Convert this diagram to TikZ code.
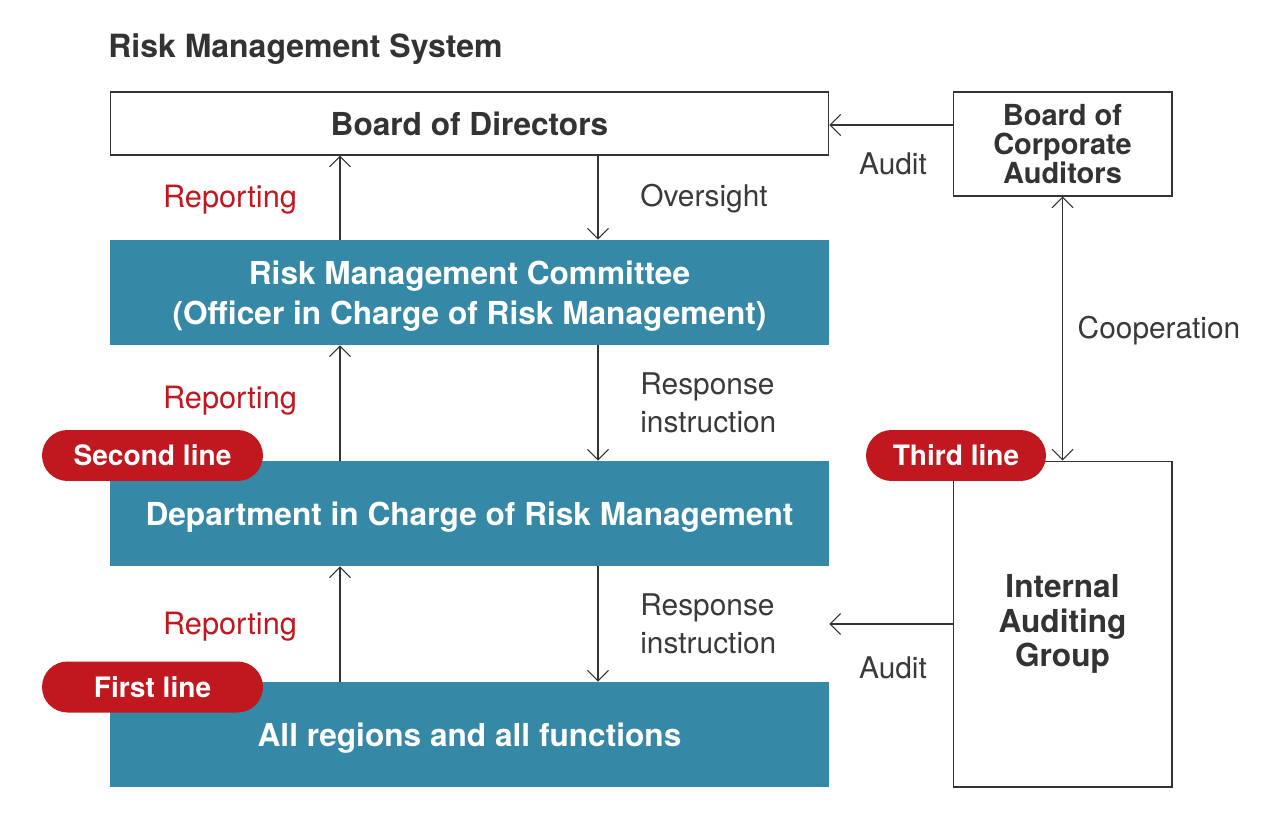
\documentclass[tikz,border=0pt]{standalone}
\usepackage{fontspec}
\setmainfont{TeX Gyre Heros}
\usepackage{tikz}
\usetikzlibrary{arrows.meta}
\definecolor{ink}{HTML}{333333}
\definecolor{soft}{HTML}{3A3A3A}
\definecolor{riskteal}{HTML}{3589A7}
\definecolor{linered}{HTML}{C1171F}
\tikzset{
  box/.style={draw=ink, line width=0.6pt, fill=white, text=ink, align=center, inner sep=0pt, font=\fontsize{18}{22}\selectfont\bfseries},
  band/.style={fill=riskteal, text=white, align=center, inner sep=0pt, text depth=0pt, minimum width=14.38cm, minimum height=2.1cm, font=\fontsize{18}{22.8}\selectfont\bfseries},
  pill/.style={fill=linered, text=white, inner sep=0pt, rounded corners=0.51cm, minimum height=1.02cm, font=\fontsize{16}{19}\selectfont\bfseries},
  arr/.style={draw=ink, line width=0.6pt, -{Straight Barb[length=6pt,width=12pt]}},
  lab/.style={text=soft, inner sep=0pt, align=left, font=\fontsize{17}{22}\selectfont},
  rep/.style={text=linered, inner sep=0pt, font=\fontsize{17.5}{22}\selectfont},
}
\begin{document}
\begin{tikzpicture}[x=0.02cm, y=-0.02cm]
  \useasboundingbox (0,0) rectangle (1280,817);
  \node[text=ink, inner sep=0pt, anchor=base west, font=\fontsize{18.2}{22}\selectfont\bfseries] (ttl) at (108,58) {Risk Management System};
  % boxes
  \node[box, minimum width=14.38cm, minimum height=1.26cm] (bod) at (469.5,123.5) {Board of Directors};
  \node[box, minimum width=4.38cm, minimum height=2.08cm, font=\fontsize{16.5}{16.5}\selectfont\bfseries] (bca) at (1062.5,144) {Board of\\Corporate\\Auditors};
  \node[band] (rmc) at (469.5,292.5) {Risk Management Committee\\(Officer in Charge of Risk Management)};
  \node[band] (dept) at (469.5,513.5) {Department in Charge of Risk Management};
  \node[band] (allr) at (469.5,734.5) {All regions and all functions};
  \node[box, minimum width=4.38cm, minimum height=6.52cm, font=\fontsize{18}{19.6}\selectfont\bfseries] (iag) at (1062.5,624) {Internal\\Auditing\\Group};
  % lines of defence
  \node[pill, minimum width=4.42cm] (second) at (152.5,455.5) {Second line};
  \node[pill, minimum width=4.42cm] (first) at (152.5,687) {First line};
  \node[pill, minimum width=3.6cm] (third) at (956,455.5) {Third line};
  % connectors
  \coordinate (up) at (340,0);
  \coordinate (dn) at (598,0);
  \coordinate (aud) at ([yshift=0.38cm]bca.west);
  \draw[arr] (rmc.north -| up) -- (bod.south -| up);
  \draw[arr] (dept.north -| up) -- (rmc.south -| up);
  \draw[arr] (allr.north -| up) -- (dept.south -| up);
  \draw[arr] (bod.south -| dn) -- (rmc.north -| dn);
  \draw[arr] (rmc.south -| dn) -- (dept.north -| dn);
  \draw[arr] (dept.south -| dn) -- (allr.north -| dn);
  \draw[arr] (aud) -- (aud -| bod.east);
  \draw[arr] (iag.west) -- (iag.west -| dept.east);
  \draw[arr, {Straight Barb[length=6pt,width=12pt]}-{Straight Barb[length=6pt,width=12pt]}] (bca.south) -- (iag.north);
  % labels
  \node[rep, anchor=base] (rep1) at (230,208) {Reporting};
  \node[rep, anchor=base] (rep2) at (230,408) {Reporting};
  \node[rep, anchor=base] (rep3) at (230,634) {Reporting};
  \node[lab, anchor=base west] (over) at (640,207) {Oversight};
  \node[lab, anchor=west] (resp1) at (640,403) {Response\\instruction};
  \node[lab, anchor=west] (resp2) at (640,624) {Response\\instruction};
  \node[lab, anchor=base] (aud1) at (893,175) {Audit};
  \node[lab, anchor=base] (aud2) at (893,678) {Audit};
  \node[lab, anchor=base] (coop) at (1159,338) {Cooperation};
\end{tikzpicture}
\end{document}
